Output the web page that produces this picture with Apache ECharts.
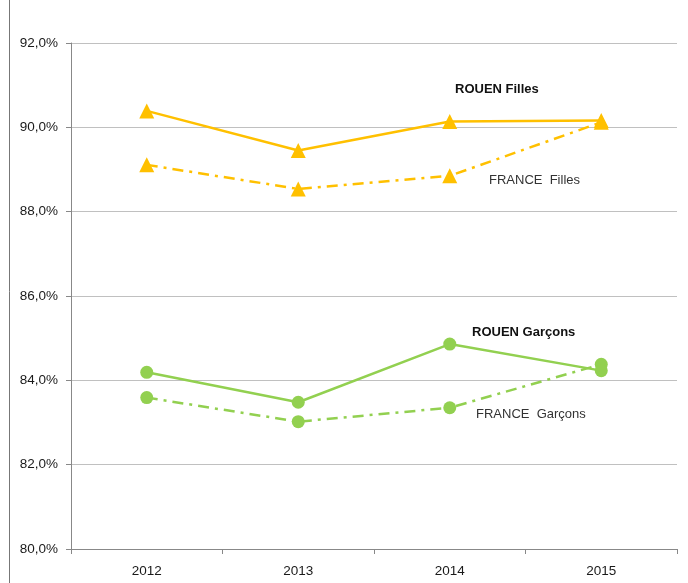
<!DOCTYPE html>
<html><head><meta charset="utf-8">
<script src="https://cdn.jsdelivr.net/npm/echarts@6/dist/echarts.min.js"></script>
<style>html,body{margin:0;padding:0;background:#fff}#c{width:688px;height:583px}</style>
</head><body><div id="c"></div>
<script>
const years = ['2012','2013','2014','2015'];
const rouenFilles = [90.39, 89.45, 90.14, 90.16];
const franceFilles = [89.11, 88.54, 88.85, 90.12];
const rouenGarcons = [84.19, 83.48, 84.86, 84.23];
const franceGarcons = [83.59, 83.02, 83.35, 84.38];
const yTicks = {min: 80, max: 92, interval: 2};

const gold = '#FFC000', green = '#92D050';
const font = 'Liberation Sans';
const chart = echarts.init(document.getElementById('c'), null, {renderer:'canvas'});
function line(name, data, color, dashed, symbol, size){
  return {name, type:'line', data, symbol, symbolSize:size, showAllSymbol:true,
    itemStyle:{color}, lineStyle:{color, width:2.5, type: dashed ? [11,6,3,6] : 'solid'},
    emphasis:{disabled:true}, z: dashed ? 2 : 3};
}
chart.setOption({
  animation:false,
  grid:{left:71, right:11, top:43, bottom:34},
  xAxis:{type:'category', data:years, boundaryGap:true,
    axisLine:{lineStyle:{color:'#888', width:1}},
    axisTick:{show:true, length:5, lineStyle:{color:'#888'}},
    axisLabel:{color:'#1a1a1a', fontFamily:font, fontSize:13.5, margin:15}},
  yAxis:{type:'value', min:yTicks.min, max:yTicks.max, interval:yTicks.interval,
    axisLine:{show:true, lineStyle:{color:'#888'}},
    axisTick:{show:true, length:5, lineStyle:{color:'#888'}},
    splitLine:{lineStyle:{color:'#c0c0c0', width:1}},
    axisLabel:{color:'#1a1a1a', fontFamily:font, fontSize:13.5, margin:13,
      formatter:v=>v.toFixed(1).replace('.',',')+'%'}},
  series:[
    line('FRANCE Filles', franceFilles, gold, true, 'triangle', 15),
    line('ROUEN Filles', rouenFilles, gold, false, 'triangle', 15),
    line('FRANCE Garçons', franceGarcons, green, true, 'circle', 13),
    line('ROUEN Garçons', rouenGarcons, green, false, 'circle', 13)
  ],
  graphic:[
    {type:'line', shape:{x1:9.5,y1:0,x2:9.5,y2:583}, style:{stroke:'#777', lineWidth:1}},
    {type:'text', left:455, top:83, style:{text:'ROUEN Filles', fontFamily:font, fontWeight:'bold', fontSize:13, fill:'#111'}},
    {type:'text', left:489, top:174, style:{text:'FRANCE  Filles', fontFamily:font, fontSize:13, fill:'#333'}},
    {type:'text', left:472, top:326, style:{text:'ROUEN Garçons', fontFamily:font, fontWeight:'bold', fontSize:13, fill:'#111'}},
    {type:'text', left:476, top:408, style:{text:'FRANCE  Garçons', fontFamily:font, fontSize:13, fill:'#333'}}
  ]
});
</script></body></html>
